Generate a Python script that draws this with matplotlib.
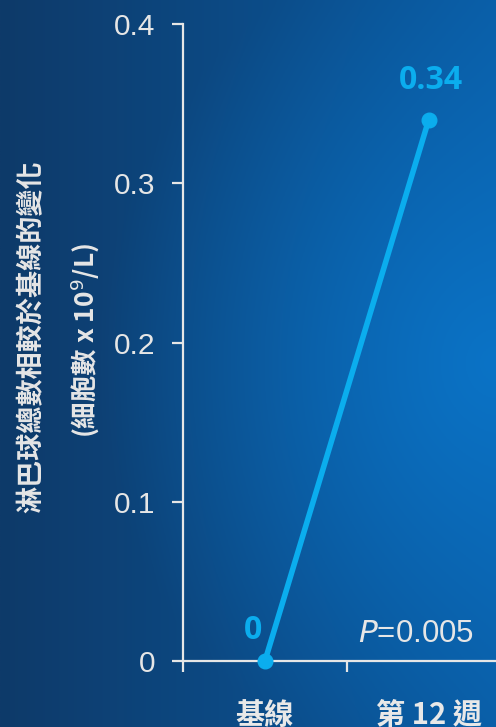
import numpy as np
import matplotlib
matplotlib.use("Agg")
import matplotlib.pyplot as plt
from matplotlib.colors import to_rgb

plt.rcParams['font.family'] = ['Liberation Sans', 'Noto Sans CJK TC', 'DejaVu Sans']

# ---- data ----
categories = ["基線", "第 12 週"]
values = [0.0, 0.34]
value_labels = ["0", "0.34"]
yticks = [0, 0.1, 0.2, 0.3, 0.4]
ytick_labels = ["0", "0.1", "0.2", "0.3", "0.4"]
ylabel_line1 = "淋巴球總數相較於基線的變化"
ylabel_line2 = "(細胞數 x 10$^9$/L)"
p_text = "$\\mathit{P}$=0.005"

W, H = 496, 727
fig = plt.figure(figsize=(W / 100, H / 100), dpi=100)

# background gradient
bg = fig.add_axes([0, 0, 1, 1], zorder=-10)
bg.axis('off')
nx, ny = 200, 300
xx, yy = np.meshgrid(np.linspace(0, 1, nx), np.linspace(0, 1, ny))
c_left = np.array(to_rgb('#0e3a69'))
c_right = np.array(to_rgb('#0a5ca4'))
c_glow = np.array(to_rgb('#0a73c6'))
t = np.clip(xx, 0, 1)[..., None]
img = c_left * (1 - t) + c_right * t
d = np.sqrt(((xx - 1.0) / 0.8) ** 2 + ((yy - 0.5) / 0.6) ** 2)
g = np.clip(1 - d, 0, 1)[..., None] ** 1.1
img = img * (1 - g) + c_glow * g
bg.imshow(img, extent=[0, 1, 0, 1], aspect='auto', origin='upper')
bg.set_xlim(0, 1); bg.set_ylim(0, 1)

left = 183 / W
bottom = (H - 661) / H
top = (H - 24) / H
ax = fig.add_axes([left, bottom, 1 - left, top - bottom])
ax.patch.set_alpha(0)

x = np.arange(len(categories))
line_color = '#0badee'
ax.plot(x, values, color=line_color, lw=4, marker='o', ms=10.5, clip_on=False, zorder=5)

ax.set_ylim(0, 0.4)
ax.set_xlim(-0.5, 1.41)
ax.set_yticks(yticks)
ax.set_yticklabels(ytick_labels)
ax.set_xticks([-0.5, 0.5])
ax.set_xticklabels([])
for xi, c in zip(x, categories):
    ax.text(xi, -0.0245, c, ha='center', va='top', fontsize=21, fontweight='bold',
            color='#e8e8e8', family=['Noto Sans CJK TC', 'DejaVu Sans'], clip_on=False)

white = '#e6e6e6'
for s in ['top', 'right']:
    ax.spines[s].set_visible(False)
for s in ['left', 'bottom']:
    ax.spines[s].set_color(white)
    ax.spines[s].set_linewidth(1.6)
ax.tick_params(axis='both', colors=white, width=1.6, length=8, labelsize=21.5, pad=12)

# value labels
ax.text(x[0] - 0.07, values[0] + 0.019, value_labels[0], ha='center', va='center',
        fontsize=23, fontweight='bold', color=line_color, family='Open Sans')
ax.text(x[1] + 0.01, values[1] + 0.0243, value_labels[1], ha='center', va='center',
        fontsize=23, fontweight='bold', color=line_color, family='Open Sans')

ax.text(1.275, 0.0168, p_text, ha='right', va='center', fontsize=22.5, color=white)

fig.text(32 / W, 1 - 337 / H, ylabel_line1, rotation=90, ha='center', va='center',
         fontsize=19.5, fontweight='bold', color=white,
         family=['Noto Sans CJK TC', 'DejaVu Sans'])
fig.text(85 / W, 1 - 340 / H, ylabel_line2, rotation=90, ha='center', va='center',
         fontsize=19, fontweight='bold', color=white,
         family=['Noto Sans CJK TC', 'DejaVu Sans'])

fig.savefig('out.png', dpi=100)
